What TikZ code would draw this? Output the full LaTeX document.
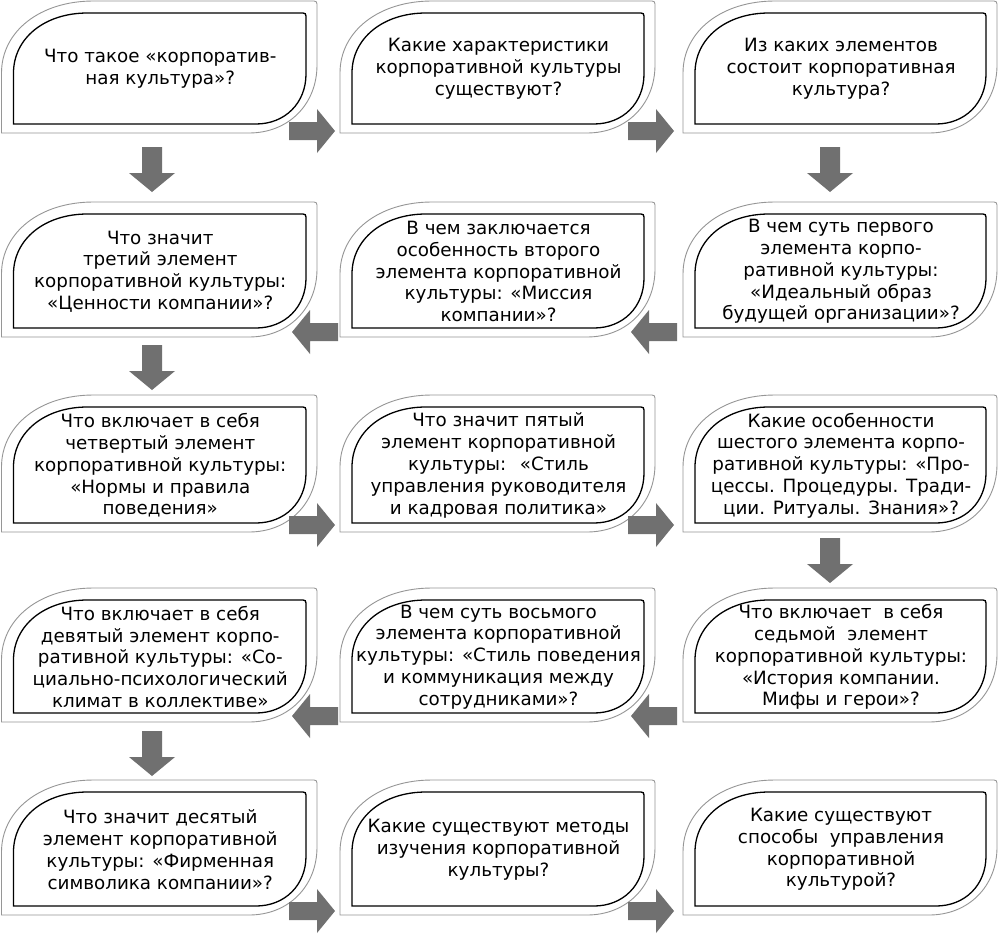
\documentclass[tikz,border=0pt]{standalone}
\usepackage{fontspec}
\setmainfont{DejaVu Sans}
\definecolor{arrowfill}{RGB}{112,112,112}
\definecolor{outergray}{RGB}{150,150,150}
\tikzset{
  x=1pt, y=-1pt,
  outerline/.style={draw=outergray, line width=0.9pt, fill=white},
  innerline/.style={draw=black, line width=1.3pt},
  qtext/.style={align=center, font=\fontsize{18.3}{21.8}\selectfont, inner sep=0pt},
  arrowstyle/.style={fill=arrowfill},
}
% #1 style, #2 x1, #3 y1, #4 x2, #5 y2, #6 top-left rx, #7 top-left ry, #8 bottom-right r
\newcommand\leaf[8]{%
  \draw[#1] (#2,#5) -- (#2,#3+#7) .. controls (#2,#3+0.42*#7) and (#2+0.42*#6,#3) .. (#2+#6,#3)
  -- (#4-3,#3) .. controls (#4-1,#3) and (#4,#3+1) .. (#4,#3+3)
  -- (#4,#5-#8) .. controls (#4,#5-0.42*#8) and (#4-0.42*#8,#5) .. (#4-#8,#5) -- cycle;}
\newcommand\qbox[6]{%
  \leaf{outerline}{#2}{#3}{#4}{#5}{92}{72}{68}
  \leaf{innerline}{#2+12}{#3+12}{#4-11}{#5-9}{74}{60}{50}
  \node[qtext] (#1) at ({(#2+#4)/2+1},{(#3+#5)/2+2}) {#6};}
\newcommand\rarr[2]{%
  \fill[arrowstyle] (#1,#2-9) -- (#1+28,#2-9) -- (#1+28,#2-22) -- (#1+46,#2) -- (#1+28,#2+22) -- (#1+28,#2+9) -- (#1,#2+9) -- cycle;}
\newcommand\larr[2]{%
  \fill[arrowstyle] (#1,#2-9) -- (#1-28,#2-9) -- (#1-28,#2-22) -- (#1-46,#2) -- (#1-28,#2+22) -- (#1-28,#2+9) -- (#1,#2+9) -- cycle;}
\newcommand\darr[2]{%
  \fill[arrowstyle] (#1-10,#2) -- (#1+10,#2) -- (#1+10,#2+26) -- (#1+23,#2+26) -- (#1,#2+45) -- (#1-23,#2+26) -- (#1-10,#2+26) -- cycle;}
\begin{document}
\begin{tikzpicture}
\useasboundingbox[fill=white] (0,0) rectangle (1000,934);
% row 1
\qbox{q1}{1.5}{1}{317}{133}{Что такое «корпоратив-\\ная культура»?}
\qbox{q2}{340}{1}{655}{133}{Какие характеристики\\корпоративной культуры\\существуют?}
\qbox{q3}{683}{1}{997}{133}{Из каких элементов\\состоит корпоративная\\культура?}
% row 2
\qbox{q6}{1.5}{202}{317}{337}{Что значит\\третий элемент\\корпоративной культуры:\\«Ценности компании»?}
\qbox{q5}{340}{202}{655}{337}{В чем заключается\\особенность второго\\элемента корпоративной\\культуры: «Миссия\\компании»?}
\qbox{q4}{683}{202}{997}{337}{В чем суть первого\\элемента корпо-\\ративной культуры:\\«Идеальный образ\\будущей организации»?}
% row 3
\qbox{q7}{1.5}{395}{317}{532}{Что включает в себя\\четвертый элемент\\корпоративной культуры:\\«Нормы и правила\\поведения»}
\qbox{q8}{340}{395}{655}{532}{Что значит пятый\\элемент корпоративной\\культуры:~ «Стиль\\управления руководителя\\и кадровая политика»}
\qbox{q9}{683}{395}{997}{532}{Какие особенности\\шестого элемента корпо-\\ративной культуры: «Про-\\цессы. Процедуры. Тради-\\ции. Ритуалы. Знания»?}
% row 4
\qbox{q12}{1.5}{588}{317}{722}{Что включает в себя\\девятый элемент корпо-\\ративной культуры: «Со-\\циально-психологический\\климат в коллективе»}
\qbox{q11}{340}{588}{655}{722}{В чем суть восьмого\\элемента корпоративной\\культуры: «Стиль поведения\\и коммуникация между\\сотрудниками»?}
\qbox{q10}{683}{588}{997}{722}{Что включает~ в себя\\седьмой~ элемент\\корпоративной культуры:\\«История компании.\\Мифы и герои»?}
% row 5
\qbox{q13}{1.5}{780}{317}{915}{Что значит десятый\\элемент корпоративной\\культуры: «Фирменная\\символика компании»?}
\qbox{q14}{340}{780}{655}{915}{Какие существуют методы\\изучения корпоративной\\культуры?}
\qbox{q15}{683}{780}{997}{915}{Какие существуют\\способы~ управления\\корпоративной\\культурой?}
% arrows
\rarr{289}{131} \rarr{628}{131}
\darr{830}{147}
\larr{677}{332} \larr{338}{332}
\darr{152}{345}
\rarr{289}{525} \rarr{628}{525}
\darr{830}{538}
\larr{677}{716} \larr{338}{716}
\darr{152}{731}
\rarr{289}{911} \rarr{628}{911}
\darr{152}{147}
\end{tikzpicture}
\end{document}
